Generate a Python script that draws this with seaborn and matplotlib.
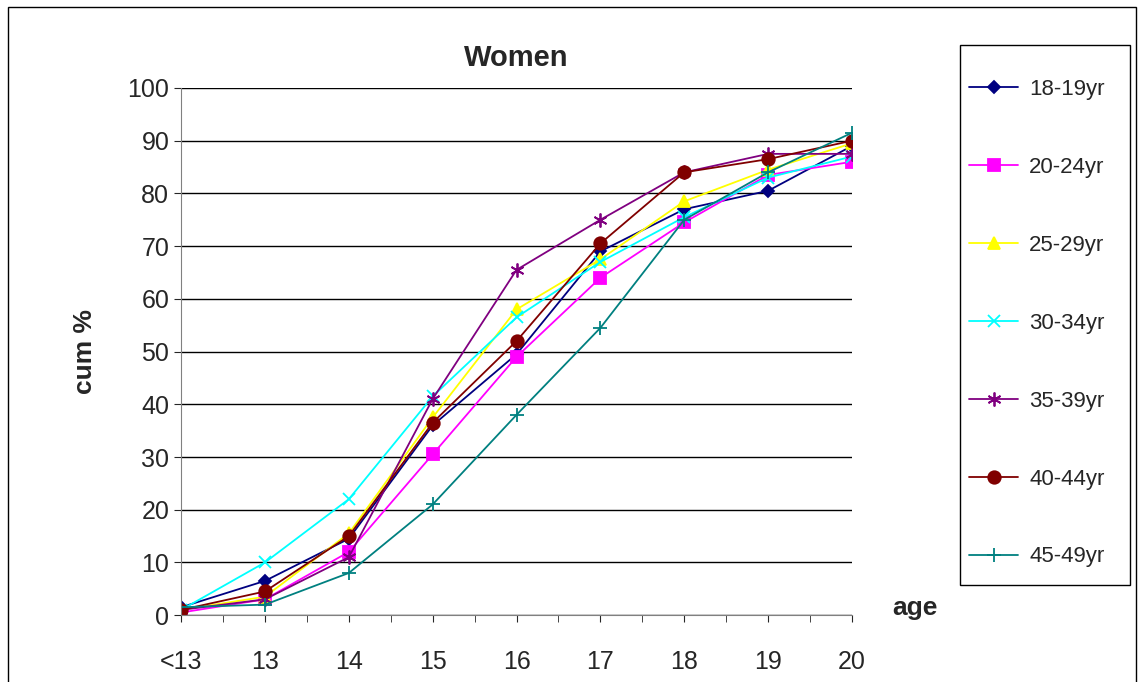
import pandas as pd
import numpy as np
import seaborn as sns
import matplotlib.pyplot as plt
from matplotlib.lines import Line2D

ages = ['<13', '13', '14', '15', '16', '17', '18', '19', '20']
groups = ['18-19yr', '20-24yr', '25-29yr', '30-34yr', '35-39yr', '40-44yr', '45-49yr']

v_18_19 = [1.5, 6.5, 14.5, 36, 49.5, 69, 77, 80.5, 89]
v_20_24 = [0.5, 3, 12, 30.5, 49, 64, 74.5, 83.5, 86]
v_25_29 = [1, 3.5, 15.5, 37.5, 58, 67.5, 78.5, 84.5, 89.5]
v_30_34 = [1, 10, 22, 41.5, 56.5, 67, 75.5, 83, 87]
v_35_39 = [1, 3, 11, 41, 65.5, 75, 84, 87.5, 87.5]
v_40_44 = [1, 4.5, 15, 36.5, 52, 70.5, 84, 86.5, 90]
v_45_49 = [1.5, 2, 8, 21, 38, 54.5, 75, 84, 91.5]

values = [v_18_19, v_20_24, v_25_29, v_30_34, v_35_39, v_40_44, v_45_49]
colors = ['#000080', '#ff00ff', '#ffff00', '#00ffff', '#800080', '#800000', '#008080']
markers = ['D', 's', '^', 'x', (6, 2, 0), 'o', '+']
sizes = [6, 9, 9, 9, 10, 9, 10]

rows = []
for g, vals in zip(groups, values):
    for i, v in enumerate(vals):
        rows.append({'group': g, 'x': i, 'cum': v})
df = pd.DataFrame(rows)

sns.set_style('white')
plt.rcParams['font.family'] = ['Liberation Sans', 'DejaVu Sans']

fig = plt.figure(figsize=(11.39, 6.82), dpi=100)
ax = fig.add_axes([0.159, 0.098, 0.589, 0.773])

for g, c, m, s in zip(groups, colors, markers, sizes):
    sub = df[df['group'] == g]
    sns.lineplot(data=sub, x='x', y='cum', ax=ax, color=c, marker=m, markersize=s,
                 markeredgecolor=c, markeredgewidth=1.3, linewidth=1.3, legend=False)

ax.set_xlim(0, 8)
ax.set_ylim(0, 100)
ax.set_yticks(range(0, 101, 10))
ax.set_xticks(range(9))
ax.set_xticklabels(ages)
ax.tick_params(axis='both', labelsize=18, length=5, direction='out', left=True, bottom=True)
ax.tick_params(axis='x', pad=20)
ax.set_xticks(np.arange(0.5, 8, 1), minor=True)
ax.tick_params(axis='x', which='minor', length=5, bottom=True)
ax.yaxis.grid(True, color='black', linewidth=1)
ax.xaxis.grid(False)
for sp in ['top', 'right']:
    ax.spines[sp].set_visible(False)
for sp in ['left', 'bottom']:
    ax.spines[sp].set_color('#808080')
ax.set_xlabel('')
ax.set_ylabel('cum %', fontsize=19, fontweight='bold', labelpad=22)
ax.set_title('Women', fontsize=21, fontweight='bold', pad=16)
fig.text(0.803, 0.098, 'age', fontsize=19, fontweight='bold', ha='center')

# legend box drawn separately, entries placed inside
fig.patches.append(plt.Rectangle((0.843, 0.142), 0.149, 0.792, transform=fig.transFigure,
                                 fill=False, edgecolor='black', linewidth=1))
handles = [Line2D([0], [0], color=c, marker=m, markersize=s, markeredgecolor=c,
                  markeredgewidth=1.3, linewidth=1.3)
           for c, m, s in zip(colors, markers, sizes)]
leg = fig.legend(handles, groups, loc='upper left', bbox_to_anchor=(0.851, 0.884),
                 fontsize=16, frameon=False, handlelength=2.2,
                 handletextpad=0.5, labelspacing=2.56, borderpad=0, borderaxespad=0)

fig.patches.append(plt.Rectangle((0.007, -0.01), 0.99, 1.0, transform=fig.transFigure,
                                 fill=False, edgecolor='black', linewidth=1))
fig.savefig('out.png', dpi=100)
